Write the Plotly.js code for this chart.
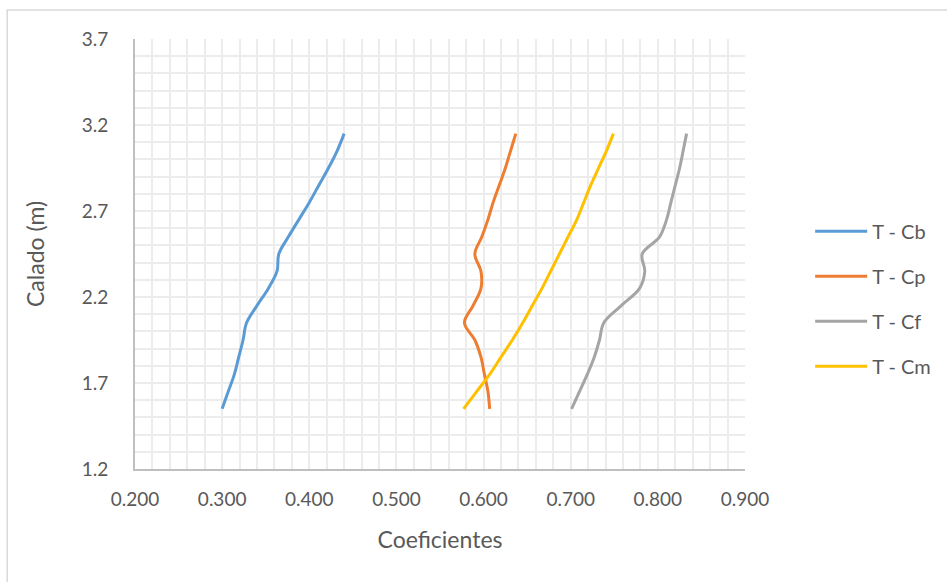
<!DOCTYPE html>
<html>
<head>
<meta charset="utf-8">
<script src="https://cdn.plot.ly/plotly-3.0.1.min.js"></script>
<style>
  html, body { margin: 0; padding: 0; background: #ffffff; }
  #chart { width: 947px; height: 582px; }
</style>
</head>
<body>
<div id="chart"></div>
<script>
// Draft values (m) shared by every coefficient curve
const calado = [1.55, 1.65, 1.75, 1.85, 1.95, 2.05, 2.15, 2.25, 2.35, 2.45, 2.55, 2.65, 2.75, 2.85, 2.95, 3.05, 3.15];

// Form coefficients at each draft
const cb = [0.300, 0.307, 0.314, 0.319, 0.324, 0.328, 0.340, 0.353, 0.363, 0.365, 0.376, 0.388, 0.400, 0.411, 0.422, 0.432, 0.440];
const cp = [0.607, 0.605, 0.601, 0.597, 0.590, 0.578, 0.588, 0.597, 0.597, 0.590, 0.598, 0.605, 0.611, 0.618, 0.625, 0.631, 0.637];
const cf = [0.701, 0.710, 0.719, 0.727, 0.733, 0.738, 0.758, 0.779, 0.785, 0.782, 0.802, 0.810, 0.815, 0.820, 0.825, 0.829, 0.833];
const cm = [0.577, 0.592, 0.607, 0.620, 0.633, 0.645, 0.656, 0.667, 0.677, 0.687, 0.697, 0.707, 0.715, 0.723, 0.732, 0.741, 0.749];

const seriesNames = ['T - Cb', 'T - Cp', 'T - Cf', 'T - Cm'];
const seriesValues = [cb, cp, cf, cm];
const seriesColors = ['#5B9BD5', '#ED7D31', '#A5A5A5', '#FFC000'];

const fontFamily = 'Lato, "Open Sans", "DejaVu Sans", sans-serif';
const textColor = '#595959';
const gridColor = '#ececec';

const traces = seriesNames.map((name, i) => ({
  type: 'scatter',
  mode: 'lines',
  name: name,
  legendgroup: 'g' + i,
  x: seriesValues[i],
  y: calado,
  line: { color: seriesColors[i], width: 3, shape: 'spline', smoothing: 1 }
}));

const layout = {
  width: 947,
  height: 582,
  paper_bgcolor: '#ffffff',
  plot_bgcolor: '#ffffff',
  margin: { l: 135, r: 201, t: 39, b: 113 },
  font: { family: fontFamily, color: textColor, size: 18 },
  showlegend: true,
  legend: {
    x: 1.105, y: 0.598, xanchor: 'left', yanchor: 'top',
    font: { family: fontFamily, size: 20, color: textColor },
    tracegroupgap: 16,
    itemwidth: 52,
    bgcolor: 'rgba(0,0,0,0)'
  },
  xaxis: {
    range: [0.2, 0.9],
    tick0: 0.2, dtick: 0.1,
    tickformat: '.3f',
    showgrid: true, gridcolor: gridColor, gridwidth: 2,
    minor: { dtick: 0.02, showgrid: true, gridcolor: gridColor, gridwidth: 2 },
    zeroline: false,
    showline: true, linecolor: '#bfbfbf', linewidth: 2,
    ticks: '', ticklen: 0,
    ticklabelstandoff: 12,
    tickfont: { family: fontFamily, size: 19, color: textColor },
    title: { text: 'Coeficientes', font: { family: fontFamily, size: 23, color: textColor }, standoff: 23 }
  },
  yaxis: {
    range: [1.2, 3.7],
    tick0: 1.2, dtick: 0.5,
    tickformat: '.1f',
    showgrid: true, gridcolor: gridColor, gridwidth: 2,
    minor: { dtick: 0.1, showgrid: true, gridcolor: gridColor, gridwidth: 2 },
    zeroline: false,
    showline: true, linecolor: '#bfbfbf', linewidth: 2,
    ticks: '', ticklen: 0,
    ticklabelstandoff: 21,
    tickfont: { family: fontFamily, size: 19, color: textColor },
    title: { text: 'Calado (m)', font: { family: fontFamily, size: 23, color: textColor }, standoff: 31 }
  },
  shapes: [{
    type: 'rect', xref: 'paper', yref: 'paper',
    x0: -0.2095, x1: 1.4, y0: -0.35, y1: 1.0674,
    line: { color: '#d9d9d9', width: 1.5 },
    fillcolor: 'rgba(0,0,0,0)', layer: 'below'
  }]
};

Plotly.newPlot('chart', traces, layout, { displayModeBar: false, staticPlot: true });
</script>
</body>
</html>
